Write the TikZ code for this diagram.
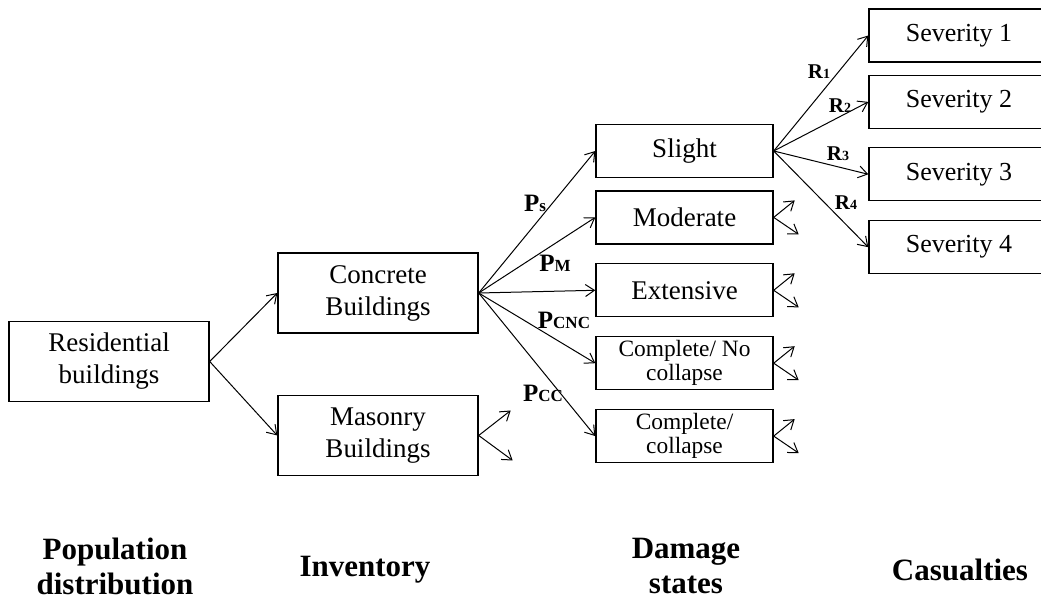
\documentclass[tikz,border=0pt]{standalone}
\usepackage{fontspec}
\setmainfont{Liberation Serif}
\usetikzlibrary{arrows.meta, positioning}
\tikzset{
    myarrow/.style={-{Straight Barb[length=4.5pt,width=6pt]}, line width=0.5pt},
    box/.style={draw, rectangle, line width=0.7pt, font=\fontsize{13.5}{16}\selectfont, minimum width=100pt, minimum height=40pt, align=center, inner sep=0pt, fill=white},
    dsbox/.style={box, minimum width=88.5pt, minimum height=26.5pt},
    smallbox/.style={dsbox, font=\fontsize{11.7}{12}\selectfont},
    sevbox/.style={box, font=\fontsize{13}{15}\selectfont, minimum width=90pt, minimum height=26.5pt},
    plabel/.style={font=\bfseries\fontsize{12.5}{14}\selectfont, inner sep=0pt},
    rlabel/.style={font=\bfseries\fontsize{10.5}{12}\selectfont, inner sep=0pt},
    stage/.style={font=\bfseries\fontsize{15.5}{17.5}\selectfont, align=center, inner sep=0pt}
}
\newcommand{\psub}[1]{{\fontsize{8.5}{9}\selectfont #1}}
\newcommand{\rsub}[1]{{\fontsize{7}{8}\selectfont #1}}

\begin{document}
\begin{tikzpicture}[x=0.5pt, y=-0.5pt]
    \useasboundingbox (0,0) rectangle (1041,598);
    % inventory
    \node (res) [box] at (109,361.5) {Residential\\buildings};
    \node (con) [box] at (378,293) {Concrete\\Buildings};
    \node (mas) [box] at (378,435.5) {Masonry\\Buildings};
    % damage states
    \node (sli) [dsbox] at (684.5,151) {Slight};
    \node (mod) [dsbox, below=6pt of sli] {Moderate};
    \node (ext) [dsbox, below=9.25pt of mod] {Extensive};
    \node (cnc) [smallbox, below=9.25pt of ext] {Complete/ No\\collapse};
    \node (cc) [smallbox, below=9.25pt of cnc] {Complete/\\collapse};
    % casualties
    \node (sev1) [sevbox] at (959,35.5) {Severity 1};
    \node (sev2) [sevbox, below=6pt of sev1] {Severity 2};
    \node (sev3) [sevbox, below=9pt of sev2] {Severity 3};
    \node (sev4) [sevbox, below=9.25pt of sev3] {Severity 4};

    \draw [myarrow] (res.east) -- (con.west);
    \draw [myarrow] (res.east) -- (mas.west);
    \draw [myarrow] (con.east) -- (sli.west);
    \draw [myarrow] (con.east) -- (mod.west);
    \draw [myarrow] (con.east) -- (ext.west);
    \draw [myarrow] (con.east) -- (cnc.west);
    \draw [myarrow] (con.east) -- (cc.west);
    \draw [myarrow] (sli.east) -- (sev1.west);
    \draw [myarrow] (sli.east) -- (sev2.west);
    \draw [myarrow] (sli.east) -- (sev3.west);
    \draw [myarrow] (sli.east) -- (sev4.west);

    % short stubs
    \coordinate (mas-up) at ([shift={(32,-25)}]mas.east);
    \coordinate (mas-dn) at ([shift={(34,25)}]mas.east);
    \draw [myarrow] (mas.east) -- (mas-up);
    \draw [myarrow] (mas.east) -- (mas-dn);
    \foreach \n in {mod,ext,cnc,cc} {
        \coordinate (\n-up) at ([shift={(21,-17)}]\n.east);
        \coordinate (\n-dn) at ([shift={(25,17)}]\n.east);
        \draw [myarrow] (\n.east) -- (\n-up);
        \draw [myarrow] (\n.east) -- (\n-dn);
    }

    % probabilities
    \node (ps) [plabel] at (535,203) {P\psub{s}};
    \node (pm) [plabel] at (555,263) {P\psub{M}};
    \node (pcnc) [plabel] at (564,320) {P\psub{CNC}};
    \node (pcc) [plabel] at (543,393) {P\psub{CC}};
    \node (r1) [rlabel] at (819,72) {R\rsub{1}};
    \node (r2) [rlabel] at (840,106) {R\rsub{2}};
    \node (r3) [rlabel] at (838,154) {R\rsub{3}};
    \node (r4) [rlabel] at (846,203) {R\rsub{4}};

    % stages
    \node (popdist) [stage] at (115,566) {Population\\distribution};
    \node (inv) [stage] at (365,570) {Inventory};
    \node (dmg) [stage] at (686,566) {Damage\\states};
    \node (cas) [stage] at (960,570) {Casualties};
\end{tikzpicture}
\end{document}
